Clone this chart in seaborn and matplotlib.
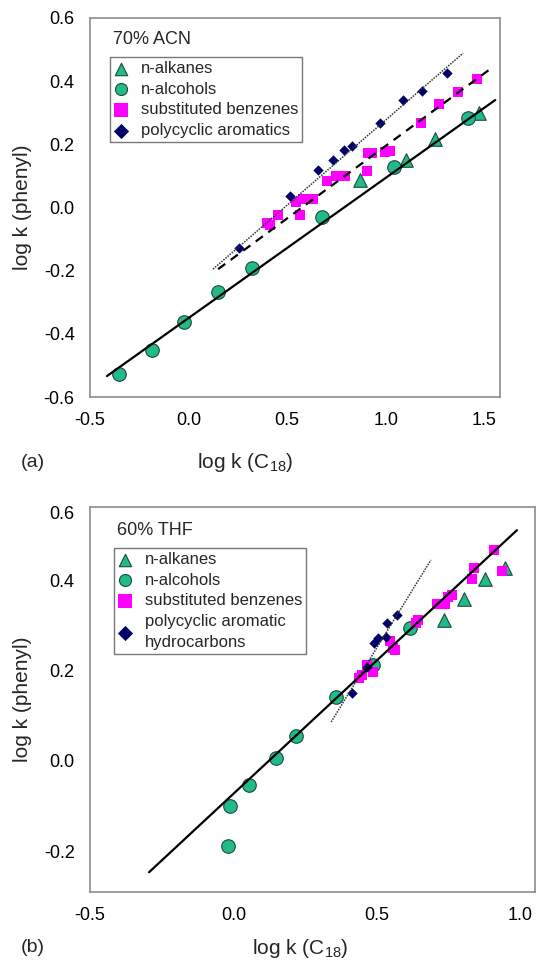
import numpy as np
import pandas as pd
import matplotlib
matplotlib.use("Agg")
import matplotlib.pyplot as plt
import seaborn as sns

# ---------------- Panel (a): 70% ACN ----------------
a_alkanes_x = [0.871, 1.104, 1.251, 1.475]
a_alkanes_y = [0.087, 0.150, 0.217, 0.299]
a_alcohols_x = [-0.353, -0.185, -0.023, 0.150, 0.322, 0.678, 1.043, 1.419]
a_alcohols_y = [-0.527, -0.451, -0.363, -0.268, -0.192, -0.030, 0.128, 0.283]
a_benz_x = [0.398, 0.414, 0.454, 0.546, 0.566, 0.581, 0.632, 0.703, 0.749, 0.794,
            0.906, 0.911, 0.931, 0.997, 1.023, 1.180, 1.272, 1.368, 1.464]
a_benz_y = [-0.049, -0.055, -0.024, 0.017, -0.024, 0.027, 0.027, 0.084, 0.100, 0.100,
            0.116, 0.173, 0.173, 0.176, 0.179, 0.268, 0.328, 0.366, 0.407]
a_pah_x = [0.256, 0.515, 0.657, 0.734, 0.789, 0.830, 0.972, 1.089, 1.185, 1.312]
a_pah_y = [-0.128, 0.036, 0.119, 0.150, 0.182, 0.195, 0.268, 0.340, 0.370, 0.426]
# fitted lines: (slope, intercept, x start, x end)
a_fit_slope = [0.4437, 0.459, 0.539]
a_fit_intercept = [-0.350, -0.264, -0.262]
a_fit_xstart = [-0.414, 0.150, 0.124]
a_fit_xend = [1.556, 1.530, 1.393]

# ---------------- Panel (b): 60% THF ----------------
b_alkanes_x = [0.735, 0.805, 0.878, 0.948]
b_alkanes_y = [0.313, 0.360, 0.404, 0.429]
b_alcohols_x = [-0.019, -0.012, 0.055, 0.149, 0.219, 0.358, 0.487, 0.616]
b_alcohols_y = [-0.189, -0.100, -0.053, 0.007, 0.056, 0.142, 0.213, 0.296]
b_benz_x = [0.438, 0.449, 0.466, 0.487, 0.546, 0.557, 0.564, 0.637, 0.644, 0.710,
            0.738, 0.749, 0.763, 0.832, 0.839, 0.909, 0.937]
b_benz_y = [0.184, 0.191, 0.213, 0.198, 0.267, 0.251, 0.247, 0.307, 0.313, 0.349,
            0.349, 0.364, 0.369, 0.404, 0.429, 0.469, 0.422]
b_pah_x = [0.414, 0.466, 0.491, 0.505, 0.532, 0.536, 0.571]
b_pah_y = [0.151, 0.209, 0.262, 0.273, 0.276, 0.307, 0.324]
b_fit_slope = [0.592, 1.034]
b_fit_intercept = [-0.073, -0.266]
b_fit_xstart = [-0.294, 0.341]
b_fit_xend = [0.989, 0.689]

labels_a = ["n-alkanes", "n-alcohols", "substituted benzenes", "polycyclic aromatics"]
labels_b = ["n-alkanes", "n-alcohols", "substituted benzenes", "polycyclic aromatic\nhydrocarbons"]

a_xticks = [-0.5, 0.0, 0.5, 1.0, 1.5]
a_yticks = [-0.6, -0.4, -0.2, 0.0, 0.2, 0.4, 0.6]
b_xticks = [-0.5, 0.0, 0.5, 1.0]
b_yticks = [-0.2, 0.0, 0.2, 0.4, 0.551]
b_yticklabels = ["-0.2", "0.0", "0.2", "0.4", "0.6"]

sns.set_style("white")
plt.rcParams["font.family"] = ["Liberation Sans", "DejaVu Sans"]
plt.rcParams["mathtext.fontset"] = "custom"
plt.rcParams["mathtext.rm"] = "Liberation Sans"

GREEN = "#22B98B"
MAGENTA = "#FF00FF"
NAVY = "#000066"
SPINE = "#8c8c8c"

fig = plt.figure(figsize=(5.48, 9.64), dpi=100)
ax1 = fig.add_axes([90 / 548, (964 - 397) / 964, 410 / 548, 379 / 964])
ax2 = fig.add_axes([90 / 548, (964 - 892) / 964, 445 / 548, 385 / 964])


def draw_points(ax, groups, labels):
    styles = [
        dict(marker="^", s=95, color=GREEN, edgecolor="#1a4a3a", linewidth=0.8),
        dict(marker="o", s=95, color=GREEN, edgecolor="#1a4a3a", linewidth=0.8),
        dict(marker="s", s=55, color=MAGENTA, edgecolor=MAGENTA, linewidth=0),
        dict(marker="D", s=28, color=NAVY, edgecolor=NAVY, linewidth=0),
    ]
    for (gx, gy), st, lab in zip(groups, styles, labels):
        df = pd.DataFrame({"x": gx, "y": gy})
        sns.scatterplot(data=df, x="x", y="y", ax=ax, label=lab, zorder=3, **st)


def draw_fits(ax, slopes, intercepts, xs0, xs1, styles):
    for m, b, x0, x1, st in zip(slopes, intercepts, xs0, xs1, styles):
        xx = np.array([x0, x1])
        df = pd.DataFrame({"x": xx, "y": m * xx + b})
        sns.lineplot(data=df, x="x", y="y", ax=ax, zorder=4, **st)


solid = dict(color="black", linewidth=1.6, linestyle="-")
dashed = dict(color="black", linewidth=1.6, linestyle=(0, (4, 3)))
dotted = dict(color="#333333", linewidth=1.1, linestyle=(0, (1, 0.8)))

draw_points(ax1, [(a_alkanes_x, a_alkanes_y), (a_alcohols_x, a_alcohols_y),
                  (a_benz_x, a_benz_y), (a_pah_x, a_pah_y)], labels_a)
draw_fits(ax1, a_fit_slope, a_fit_intercept, a_fit_xstart, a_fit_xend,
          [solid, dashed, dotted])

draw_points(ax2, [(b_alkanes_x, b_alkanes_y), (b_alcohols_x, b_alcohols_y),
                  (b_benz_x, b_benz_y), (b_pah_x, b_pah_y)], labels_b)
draw_fits(ax2, b_fit_slope, b_fit_intercept, b_fit_xstart, b_fit_xend,
          [solid, dotted])

ax1.set_xlim(-0.5, 1.58)
ax1.set_ylim(-0.6, 0.6)
ax1.set_xticks(a_xticks, [f"{v:.1f}" for v in a_xticks])
ax1.set_yticks(a_yticks, [f"{v:.1f}" for v in a_yticks])

ax2.set_xlim(-0.5, 1.052)
ax2.set_ylim(-0.291, 0.564)
ax2.set_xticks(b_xticks, [f"{v:.1f}" for v in b_xticks])
ax2.set_yticks(b_yticks, b_yticklabels)

legend_sizes = [80, 75, 100, 60]

for ax in (ax1, ax2):
    for sp in ax.spines.values():
        sp.set_color(SPINE)
        sp.set_linewidth(1.2)
    ax.tick_params(axis="both", length=0, pad=11, labelsize=13, colors="black")
    ax.set_xlabel("")
    ax.set_ylabel("log k (phenyl)", fontsize=15)
    leg = ax.legend(loc="upper left", frameon=True, fancybox=False, fontsize=12,
                    handlelength=0.8, handletextpad=0.8, borderpad=0.25,
                    labelspacing=0.34, borderaxespad=0, markerscale=1.0)
    leg.get_frame().set_edgecolor("#555555")
    leg.get_frame().set_linewidth(1.0)
    for t in leg.get_texts():
        t.set_linespacing(1.45)
    for h, sz in zip(leg.legend_handles, legend_sizes):
        h.set_sizes([sz])

ax1.legend_.set_bbox_to_anchor((20 / 410, 1 - 39 / 379), transform=ax1.transAxes)
ax2.legend_.set_bbox_to_anchor((24 / 445, 1 - 41 / 385), transform=ax2.transAxes)

ax1.yaxis.set_label_coords(-0.141, 0.5)
ax2.yaxis.set_label_coords(-0.130, 0.5)

ax1.text(0.056, 0.942, "70% ACN", transform=ax1.transAxes, fontsize=13, va="center")
ax2.text(0.061, 0.940, "60% THF", transform=ax2.transAxes, fontsize=13, va="center")

fig.text(245 / 548, 1 - 462 / 964, r"log k (C$_{18}$)", fontsize=15, ha="center", va="center")
fig.text(33 / 548, 1 - 462 / 964, "(a)", fontsize=14, ha="center", va="center")
fig.text(300 / 548, 1 - 948 / 964, r"log k (C$_{18}$)", fontsize=15, ha="center", va="center")
fig.text(33 / 548, 1 - 948 / 964, "(b)", fontsize=14, ha="center", va="center")

fig.savefig("out.png", dpi=100)
